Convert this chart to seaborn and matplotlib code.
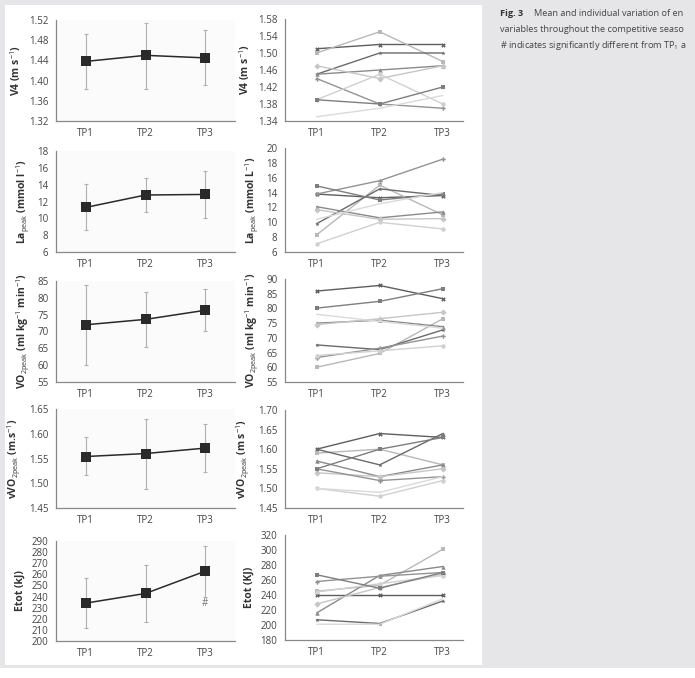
import numpy as np
import pandas as pd
import seaborn as sns
import matplotlib.pyplot as plt
from matplotlib.patches import Rectangle
from matplotlib.ticker import FormatStrFormatter

tps = ["TP1", "TP2", "TP3"]

# left column: group mean and the ends of the error bars
v4_mean = [1.438, 1.450, 1.445]
v4_hi = [1.493, 1.515, 1.501]
v4_lo = [1.384, 1.384, 1.391]

la_mean = [11.3, 12.77, 12.84]
la_hi = [14.03, 14.83, 15.62]
la_lo = [8.67, 10.74, 10.06]

vo2_mean = [72.0, 73.6, 76.3]
vo2_hi = [83.7, 81.7, 82.5]
vo2_lo = [60.1, 65.4, 70.1]

vvo2_mean = [1.554, 1.560, 1.571]
vvo2_hi = [1.594, 1.629, 1.620]
vvo2_lo = [1.517, 1.489, 1.523]

etot_mean = [234.1, 242.8, 262.8]
etot_hi = [257.1, 268.2, 285.5]
etot_lo = [212.0, 217.4, 239.8]

# right column: one row per swimmer (TP1, TP2, TP3)
v4_ind = [[1.51, 1.52, 1.52], [1.50, 1.55, 1.48], [1.45, 1.50, 1.50],
          [1.45, 1.46, 1.47], [1.47, 1.44, 1.47], [1.44, 1.38, 1.37],
          [1.39, 1.45, 1.38], [1.39, 1.38, 1.42], [1.35, 1.37, 1.40]]
la_ind = [[13.8, 13.3, 13.6], [8.3, 15.0, 11.0], [9.8, 14.5, 13.6],
          [12.1, 10.6, 11.4], [11.7, 10.4, 10.5], [13.8, 15.6, 18.5],
          [7.1, 10.0, 9.1], [14.9, 13.0, 13.8], [10.4, 12.5, 14.0]]
vo2_ind = [[85.9, 87.8, 83.3], [60.0, 64.7, 76.5], [67.6, 66.0, 72.7],
           [75.0, 76.0, 73.8], [74.5, 76.5, 78.7], [63.3, 66.5, 70.6],
           [64.0, 65.6, 67.3], [80.1, 82.4, 86.7], [78.0, 75.6, 73.3]]
vvo2_ind = [[1.60, 1.64, 1.63], [1.59, 1.60, 1.56], [1.60, 1.56, 1.64],
            [1.57, 1.53, 1.56], [1.54, 1.53, 1.55], [1.55, 1.52, 1.53],
            [1.50, 1.48, 1.52], [1.55, 1.60, 1.63], [1.50, 1.49, 1.53]]
etot_ind = [[240, 240, 240], [245, 253, 301], [207, 202, 232],
            [216, 266, 278], [228, 250, 268], [258, 265, 270],
            [244, 255, 266], [267, 249, 270], [201, 201, 235]]

greys = ["#5e5e5e", "#b8b8b8", "#6a6a6a", "#8a8a8a", "#c6c6c6",
         "#939393", "#d0d0d0", "#7e7e7e", "#dadada"]
marks = ["X", "s", "*", "^", "D", "P", "o", "s", "o"]
no_marker = [8]

sns.set_style("white")
plt.rcParams["font.family"] = ["Open Sans", "DejaVu Sans"]
plt.rcParams["mathtext.fontset"] = "custom"
plt.rcParams["mathtext.rm"] = "Open Sans"
plt.rcParams["mathtext.it"] = "Open Sans:italic"
plt.rcParams["mathtext.bf"] = "Open Sans:bold"

fig = plt.figure(figsize=(6.95, 6.78), dpi=100)
W, H = 695, 678


def box(x0, y0, x1, y1):
    return [x0 / W, 1 - y1 / H, (x1 - x0) / W, (y1 - y0) / H]


fig.patches.append(Rectangle((0, 1 - 668 / H), 1, 668 / H, transform=fig.transFigure,
                             facecolor="#e6e6e8", edgecolor="none", zorder=-3))
fig.patches.append(Rectangle((5 / W, 1 - 665 / H), 477 / W, 660 / H, transform=fig.transFigure,
                             facecolor="white", edgecolor="none", zorder=-2))

rows = [
    dict(mean=v4_mean, hi=v4_hi, lo=v4_lo, ind=v4_ind,
         ll=(1.32, 1.52, 0.04), rl=(1.34, 1.58, 0.04), fmt="%.2f",
         lab_l=r"V4 (m s$^{-1}$)", lab_r=r"V4 (m s$^{-1}$)",
         yl=(20, 121), yr=(19, 121)),
    dict(mean=la_mean, hi=la_hi, lo=la_lo, ind=la_ind,
         ll=(6, 18, 2), rl=(6, 20, 2), fmt="%d",
         lab_l=r"La$_{\mathrm{peak}}$ (mmol l$^{-1}$)", lab_r=r"La$_{\mathrm{peak}}$ (mmol L$^{-1}$)",
         yl=(151, 252), yr=(148, 252)),
    dict(mean=vo2_mean, hi=vo2_hi, lo=vo2_lo, ind=vo2_ind,
         ll=(55, 85, 5), rl=(55, 90, 5), fmt="%d",
         lab_l=r"VO$_{2\mathrm{peak}}$ (ml kg$^{-1}$ min$^{-1}$)",
         lab_r=r"VO$_{2\mathrm{peak}}$ (ml kg$^{-1}$ min$^{-1}$)",
         yl=(281, 382), yr=(279, 382)),
    dict(mean=vvo2_mean, hi=vvo2_hi, lo=vvo2_lo, ind=vvo2_ind,
         ll=(1.45, 1.65, 0.05), rl=(1.45, 1.70, 0.05), fmt="%.2f",
         lab_l=r"vVO$_{2\mathrm{peak}}$ (m.s$^{-1}$)", lab_r=r"vVO$_{2\mathrm{peak}}$ (m s$^{-1}$)",
         yl=(409, 508), yr=(410, 508)),
    dict(mean=etot_mean, hi=etot_hi, lo=etot_lo, ind=etot_ind,
         ll=(200, 290, 10), rl=(180, 320, 20), fmt="%d",
         lab_l="Etot (kJ)", lab_r="Etot (KJ)",
         yl=(541, 641), yr=(535, 640)),
]

xpos = np.arange(len(tps))


def style_axis(ax, lims, fmt, label, xlim):
    lo, hi, step = lims
    ax.set_ylim(lo, hi)
    ax.set_yticks(np.arange(lo, hi + step / 2, step))
    ax.yaxis.set_major_formatter(FormatStrFormatter(fmt))
    ax.set_xlim(*xlim)
    ax.set_xticks(xpos)
    ax.set_xticklabels(tps)
    ax.set_xticks([xlim[0], 0.5, 1.5, xlim[1]], minor=True)
    ax.tick_params(axis="x", which="major", length=0, pad=5)
    ax.tick_params(axis="x", which="minor", length=2.5, color="#888888")
    ax.tick_params(axis="y", length=2.5, color="#888888", pad=3)
    ax.tick_params(labelsize=7, labelcolor="#444444")
    sns.despine(ax=ax)
    for s in ("left", "bottom"):
        ax.spines[s].set_color("#888888")
        ax.spines[s].set_linewidth(0.9)
    ax.set_xlabel("")
    ax.set_ylabel(label, fontsize=7.5, fontweight="bold", color="#333333", labelpad=4)


for r in rows:
    # group mean +/- error
    axl = fig.add_axes(box(56, r["yl"][0], 235, r["yl"][1]))
    axl.set_facecolor("#fbfbfb")
    mean = np.array(r["mean"])
    yerr = [mean - np.array(r["lo"]), np.array(r["hi"]) - mean]
    axl.errorbar(xpos, mean, yerr=yerr, fmt="none", ecolor="#b0b0b0",
                 elinewidth=0.8, capsize=1.5, capthick=0.8, zorder=1)
    sns.lineplot(x=xpos, y=mean, ax=axl, color="#2a2a2a", marker="s",
                 markersize=6.5, markeredgewidth=0, linewidth=1.1, zorder=3)
    style_axis(axl, r["ll"], r["fmt"], r["lab_l"], (-0.5, 2.5))

    # individual swimmers
    axr = fig.add_axes(box(285, r["yr"][0], 463, r["yr"][1]))
    ind = np.array(r["ind"])
    df = pd.DataFrame({
        "tp": np.tile(xpos, len(ind)),
        "val": ind.ravel(),
        "subj": np.repeat(np.arange(len(ind)), len(tps)),
    })
    sns.lineplot(data=df, x="tp", y="val", hue="subj", style="subj",
                 palette=greys[:len(ind)], markers=marks[:len(ind)], dashes=False,
                 legend=False, ax=axr, linewidth=1.0, markersize=3.2,
                 markeredgewidth=0)
    for i in no_marker:
        axr.lines[i].set_marker("")
    style_axis(axr, r["rl"], r["fmt"], r["lab_r"], (-0.5, 2.32))

# significance mark for Etot TP3
fig.axes[8].text(2, 234, "#", ha="center", va="center", fontsize=7, color="#777777")

# caption, only the part visible before the page edge
cap = 6.6
fig.text(500 / W, 1 - 14 / H, "Fig. 3", fontsize=cap, fontweight="bold",
         color="#333333", va="center")
fig.text(534 / W, 1 - 14 / H, "Mean and individual variation of en",
         fontsize=cap, color="#444444", va="center")
fig.text(500 / W, 1 - 30 / H, "variables throughout the competitive seaso",
         fontsize=cap, color="#444444", va="center")
fig.text(500 / W, 1 - 46 / H, r"# indicates significantly different from TP$_1$ a",
         fontsize=cap, color="#444444", va="center")

fig.savefig("out.png", dpi=100)
